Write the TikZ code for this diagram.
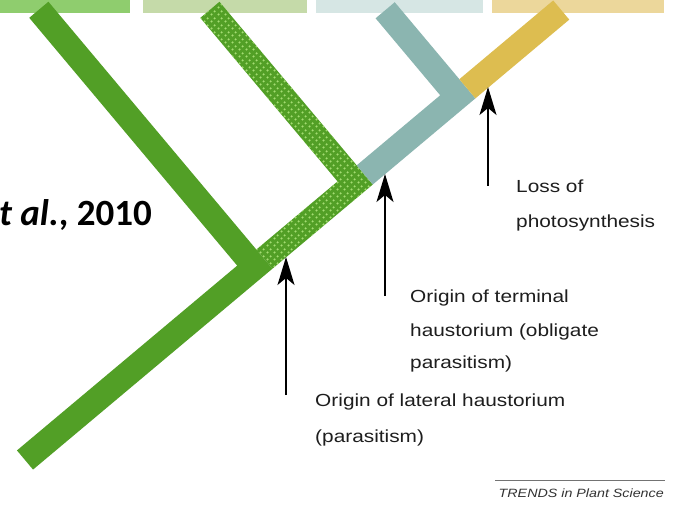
\documentclass[tikz,border=0pt]{standalone}
\usepackage{fontspec}
\setmainfont{Liberation Sans}
\newfontfamily\citefont{Carlito}
\usetikzlibrary{arrows.meta,patterns}

% staggered light dots used on the lateral-haustorium lineage
\pgfdeclarepatternformonly{leafdots}{\pgfqpoint{0pt}{0pt}}{\pgfqpoint{7pt}{7pt}}{\pgfqpoint{7pt}{7pt}}{%
  \pgfpathcircle{\pgfqpoint{1.75pt}{1.75pt}}{1.35pt}%
  \pgfpathcircle{\pgfqpoint{5.25pt}{5.25pt}}{1.35pt}%
  \pgfusepath{fill}}

\definecolor{stemgreen}{HTML}{529F26}
\definecolor{dotgreen}{HTML}{A3DC72}
\definecolor{slateteal}{HTML}{8BB5B0}
\definecolor{goldbranch}{HTML}{DDBD50}
\definecolor{barA}{HTML}{8FCD6E}
\definecolor{barB}{HTML}{C5DAA9}
\definecolor{barC}{HTML}{D6E6E4}
\definecolor{barD}{HTML}{ECD79B}
\definecolor{inkgrey}{HTML}{1E1E1E}

\tikzset{
  evoarrow/.style={draw=black, line width=1.6pt,
    -{Stealth[length=28pt, width=17pt, inset=7pt]}},
  note/.style={anchor=base west, inner sep=0pt, text=inkgrey,
    font=\fontsize{17.5}{21}\selectfont, xscale=1.19},
}

\begin{document}
\begin{tikzpicture}[x=1pt,y=1pt]
\useasboundingbox (0,0) rectangle (674,512);
\fill[white] (0,0) rectangle (674,512);

% clade colour key along the top
\fill[barA] (0,499) rectangle (130,512);
\fill[barB] (143,499) rectangle (307,512);
\fill[barC] (316,499) rectangle (483,512);
\fill[barD] (492,499) rectangle (664,512);

% the tree, drawn in a frame whose x axis runs along the main stem
\begin{scope}[shift={(25,52)}, rotate=40]
  % autotrophic lineage and basal stem
  \fill[stemgreen] (0,-12.5) -- (312.5,-12.5) -- (312.5,336) -- (287.5,336)
       -- (287.5,12.5) -- (0,12.5) -- cycle;
  % facultative parasites (dotted)
  \fill[stemgreen] (312.5,-12.5) -- (443.5,-12.5) -- (443.5,226) -- (418.5,226)
       -- (418.5,12.5) -- (312.5,12.5) -- cycle;
  \fill[pattern=leafdots, pattern color=dotgreen] (312.5,-12.5) -- (443.5,-12.5)
       -- (443.5,226) -- (418.5,226) -- (418.5,12.5) -- (312.5,12.5) -- cycle;
  % obligate hemiparasites
  \fill[slateteal] (443.5,-12.5) -- (577.5,-12.5) -- (577.5,113) -- (552.5,113)
       -- (552.5,12.5) -- (443.5,12.5) -- cycle;
  % holoparasites
  \fill[goldbranch] (577.5,-12.5) -- (700,-12.5) -- (700,12.5) -- (577.5,12.5) -- cycle;
\end{scope}

% event markers
\coordinate (lateral) at (286,255);
\coordinate (lateralfoot) at (286,117);
\coordinate (terminal) at (385,338);
\coordinate (terminalfoot) at (385,216);
\coordinate (photoloss) at (488,425);
\coordinate (photolossfoot) at (488,326);

\draw[evoarrow] (lateralfoot) -- (lateral);
\draw[evoarrow] (terminalfoot) -- (terminal);
\draw[evoarrow] (photolossfoot) -- (photoloss);

% labels
\node[note] (lossA) at (516,319) {Loss of};
\node[note] (lossB) at (516,284) {photosynthesis};
\node[note] (termA) at (410,210) {Origin of terminal};
\node[note] (termB) at (410,176) {haustorium (obligate};
\node[note] (termC) at (410,144) {parasitism)};
\node[note] (latA) at (315,106) {Origin of lateral haustorium};
\node[note] (latB) at (315,70) {(parasitism)};

% credit line
\coordinate (ruleL) at (495,32);
\coordinate (ruleR) at (665,32);
\draw[line width=0.8pt, draw=black!55] (ruleL) -- (ruleR);
\node[anchor=base east, inner sep=0pt, text=black!80, xscale=1.19,
      font=\fontsize{12}{14}\selectfont\itshape] (journal) at (664,15)
      {TRENDS in Plant Science};

% citation
\node[anchor=base east, inner sep=0pt, text=black,
      font=\citefont\bfseries\fontsize{37}{44}\selectfont] (cite) at (152,287)
      {\textit{et al.}, 2010};
\end{tikzpicture}
\end{document}
